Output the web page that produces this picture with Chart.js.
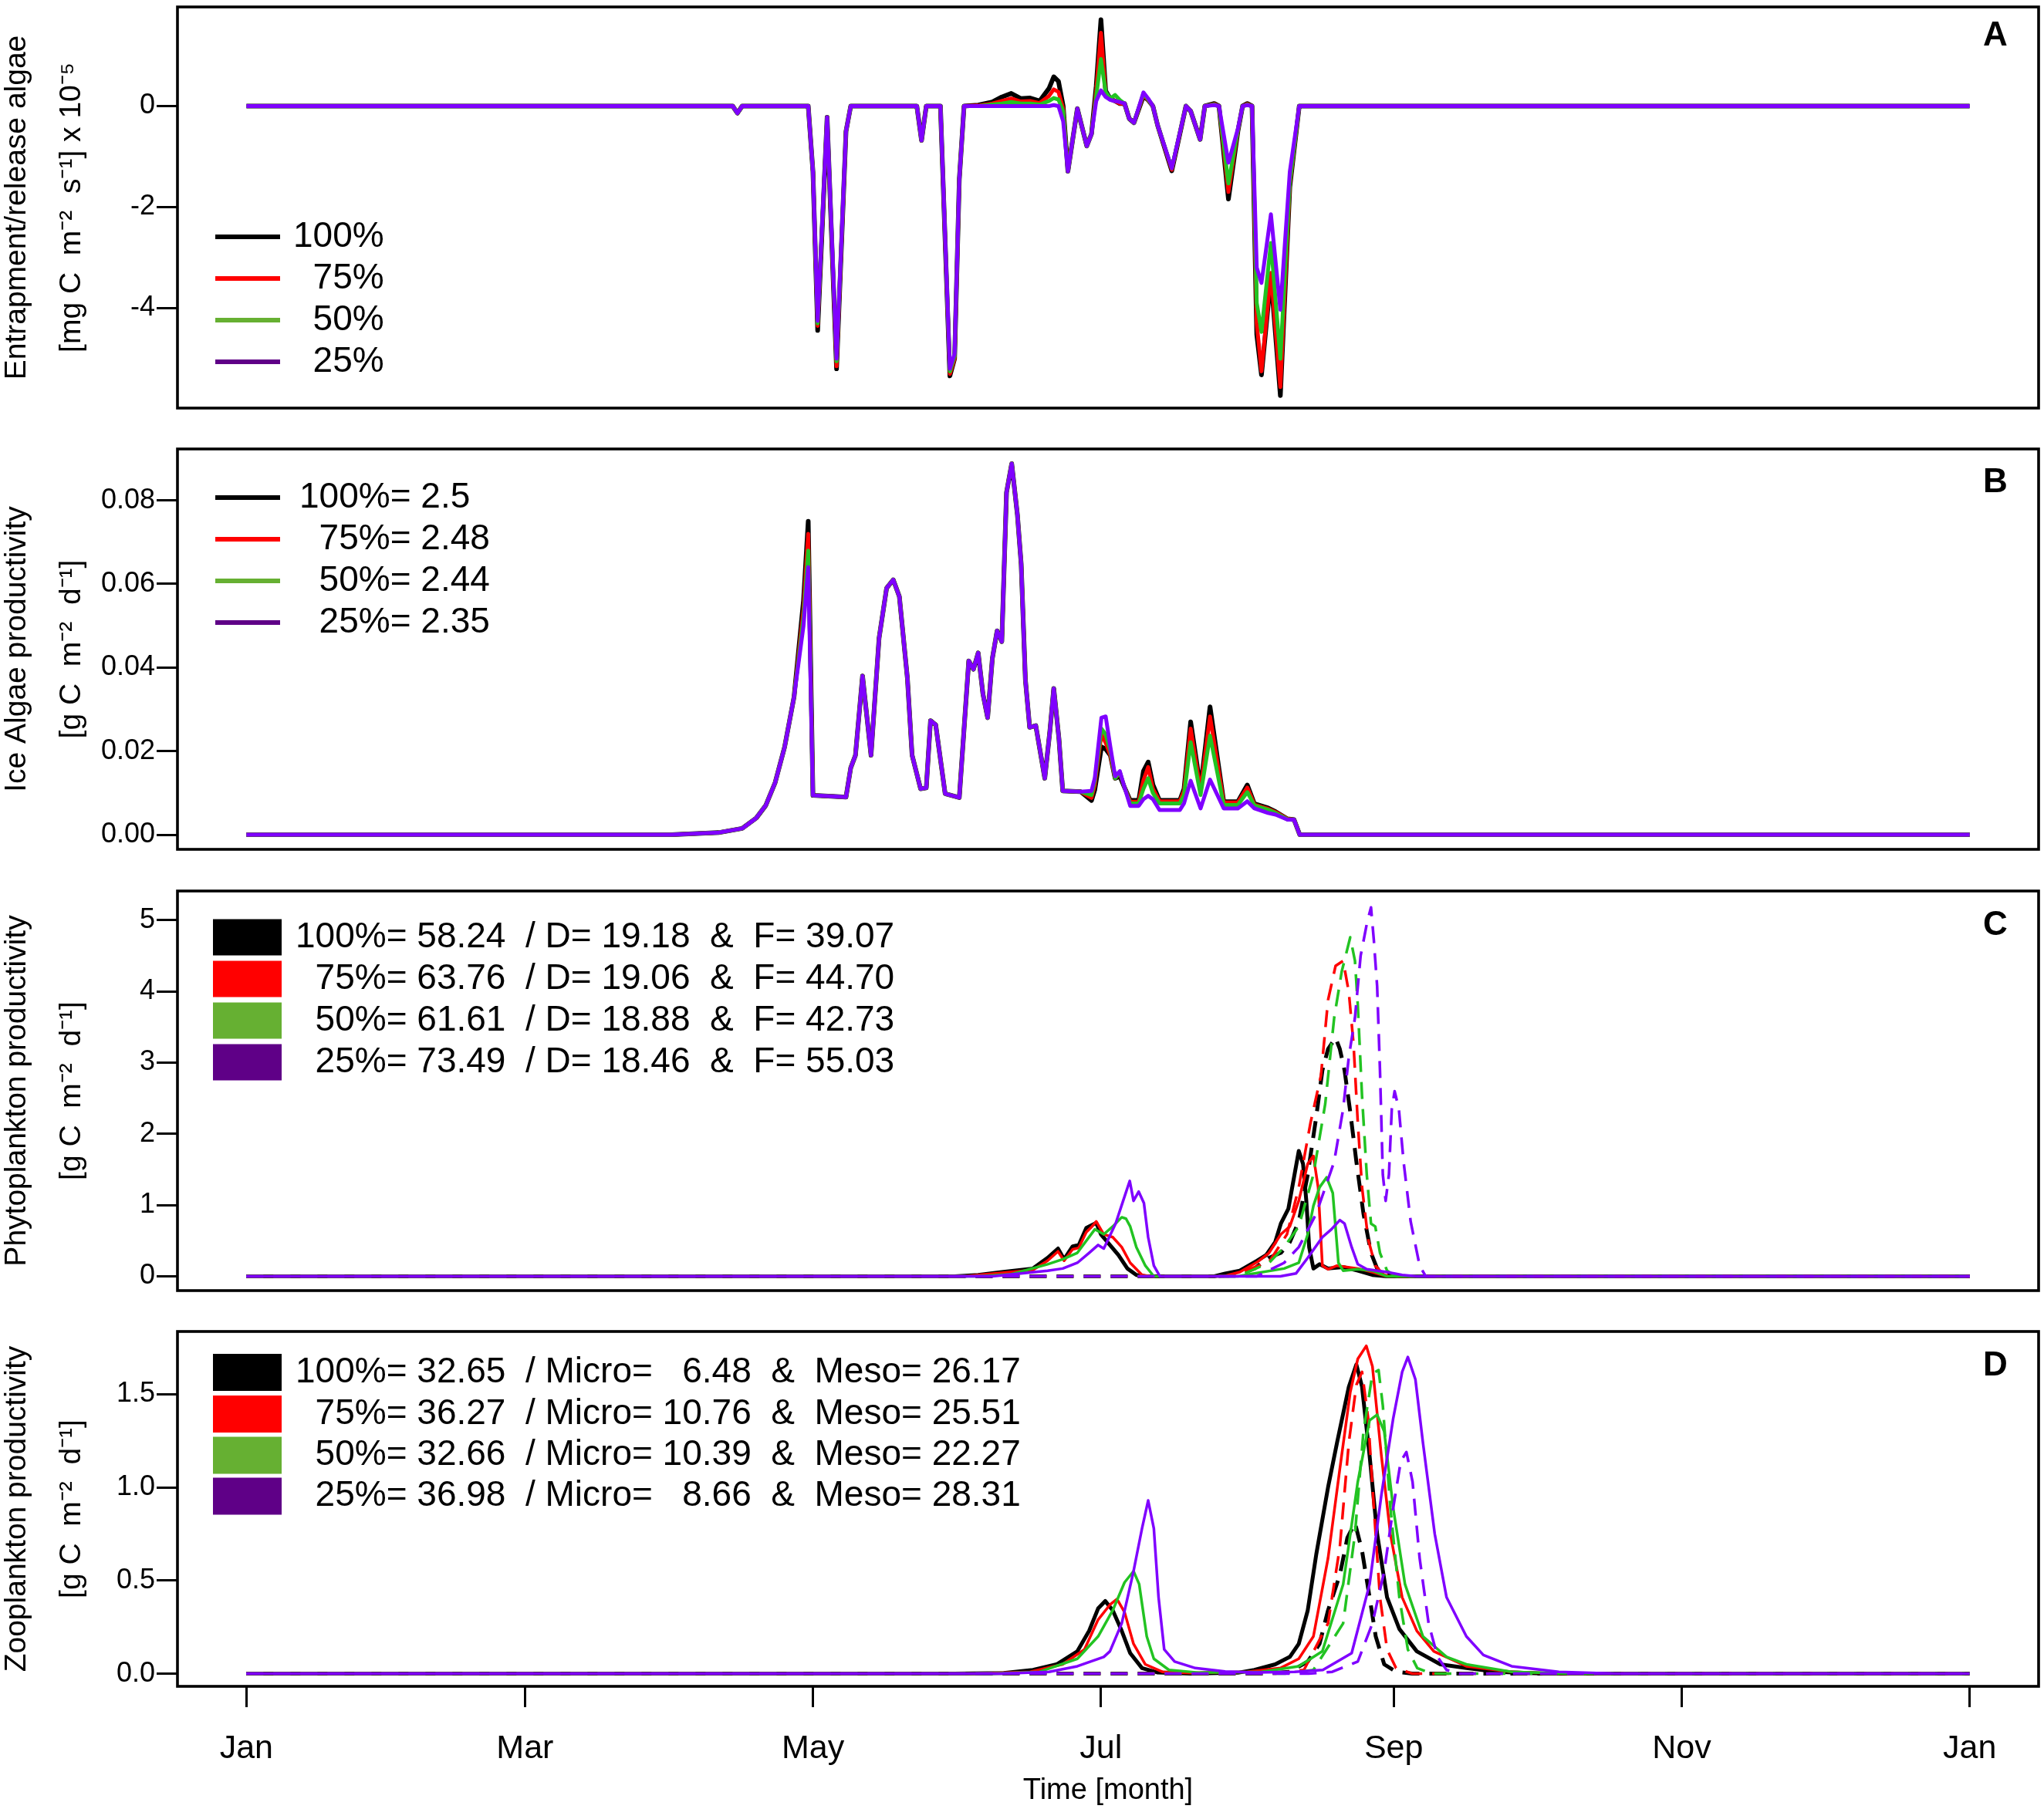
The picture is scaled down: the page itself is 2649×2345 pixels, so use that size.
<!DOCTYPE html>
<html>
<head>
<meta charset="utf-8">
<script src="https://cdn.jsdelivr.net/npm/chart.js@4.4.1/dist/chart.umd.min.js"></script>
<style>
  html, body { margin: 0; padding: 0; background: #fff; }
  body { width: 2649px; height: 2345px; position: relative; overflow: hidden; }
  canvas { position: absolute; left: 0; }
</style>
</head>
<body>
<canvas id="panelA" width="2649" height="556" style="top:0px;width:2649px;height:556px"></canvas>
<canvas id="panelB" width="2649" height="572" style="top:556px;width:2649px;height:572px"></canvas>
<canvas id="panelC" width="2649" height="572" style="top:1128px;width:2649px;height:572px"></canvas>
<canvas id="panelD" width="2649" height="645" style="top:1700px;width:2649px;height:645px"></canvas>
<script>
// ---- data ----
const scenarios = ['100%', '75%', '50%', '25%'];
const monthDays = [0, 59, 120, 181, 243, 304, 365];
const monthLabels = ['Jan', 'Mar', 'May', 'Jul', 'Sep', 'Nov', 'Jan'];

const entTicks = [-4, -2, 0];
const entTickLabels = ['-4', '-2', '0'];
const iceTicks = [0, 0.02, 0.04, 0.06, 0.08];
const iceTickLabels = ['0.00', '0.02', '0.04', '0.06', '0.08'];
const phyTicks = [0, 1, 2, 3, 4, 5];
const phyTickLabels = ['0', '1', '2', '3', '4', '5'];
const zooTicks = [0, 0.5, 1, 1.5];
const zooTickLabels = ['0.0', '0.5', '1.0', '1.5'];

const iceTotal = [2.5, 2.48, 2.44, 2.35];
const phyTotal = [58.24, 63.76, 61.61, 73.49];
const phyDia = [19.18, 19.06, 18.88, 18.46];
const phyFla = [39.07, 44.70, 42.73, 55.03];
const zooTotal = [32.65, 36.27, 32.66, 36.98];
const zooMicro = [6.48, 10.76, 10.39, 8.66];
const zooMeso = [26.17, 25.51, 22.27, 28.31];

// A: entrapment / release of ice algae (x 1e-5)
const entDays = [0, 103, 104, 105, 119, 120, 121, 123, 125, 127,
  128, 142, 143, 144, 147, 149, 150, 151, 152, 155,
  158, 160, 162, 164, 166, 168, 170, 171, 172, 173,
  174, 176, 178, 179, 180, 181, 182, 183, 184, 185,
  186, 187, 188, 190, 191, 192, 193, 196, 199, 200,
  202, 203, 205, 206, 208, 210, 211, 212, 213, 214,
  215, 217, 219, 221, 223, 365];
const ent100 = [0, 0, -0.14, 0, 0, -1.3, -4.44, -0.22, -5.2, -0.5,
  0, 0, -0.68, 0, 0, -5.34, -5.0, -1.45, 0, 0.02,
  0.08, 0.18, 0.25, 0.15, 0.16, 0.1, 0.35, 0.58, 0.49, 0,
  -1.29, -0.05, -0.79, -0.55, 0.4, 1.71, 0.3, 0.14, 0.1, 0.05,
  0.05, -0.25, -0.33, 0.2, 0.12, 0, -0.38, -1.28, 0, -0.1,
  -0.66, 0, 0.05, 0, -1.84, -0.5, 0, 0.05, 0, -4.52,
  -5.32, -3.37, -5.73, -1.6, 0, 0];
const ent75 = [0, 0, -0.14, 0, 0, -1.3, -4.35, -0.22, -5.15, -0.5,
  0, 0, -0.68, 0, 0, -5.3, -5.0, -1.45, 0, 0.01,
  0.05, 0.1, 0.15, 0.09, 0.1, 0.06, 0.2, 0.33, 0.28, -0.05,
  -1.29, -0.05, -0.79, -0.55, 0.3, 1.45, 0.25, 0.14, 0.1, 0.05,
  0.05, -0.25, -0.33, 0.22, 0.12, 0, -0.38, -1.26, 0, -0.1,
  -0.66, 0, 0.04, 0, -1.7, -0.48, 0, 0.04, 0, -4.3,
  -5.25, -3.3, -5.56, -1.55, 0, 0];
const ent50 = [0, 0, -0.14, 0, 0, -1.3, -4.3, -0.22, -5.05, -0.5,
  0, 0, -0.68, 0, 0, -5.25, -4.95, -1.45, 0, 0,
  0.03, 0.05, 0.08, 0.05, 0.05, 0.03, 0.1, 0.16, 0.13, -0.1,
  -1.29, -0.05, -0.79, -0.55, 0.2, 0.93, 0.28, 0.15, 0.22, 0.12,
  0.05, -0.25, -0.33, 0.25, 0.13, 0, -0.38, -1.23, 0, -0.1,
  -0.66, 0, 0.03, 0, -1.53, -0.47, 0, 0.03, 0, -3.9,
  -4.47, -2.71, -5.0, -1.5, 0, 0];
const ent25 = [0, 0, -0.14, 0, 0, -1.3, -4.25, -0.22, -5.0, -0.5,
  0, 0, -0.68, 0, 0, -5.2, -4.9, -1.45, 0, 0,
  0, 0, 0, 0, 0, 0, 0, 0.02, 0, -0.3,
  -1.29, -0.05, -0.79, -0.55, 0.1, 0.31, 0.18, 0.12, 0.1, 0.08,
  0.05, -0.25, -0.33, 0.27, 0.15, 0, -0.38, -1.23, 0, -0.1,
  -0.66, 0, 0.02, 0, -1.12, -0.45, 0, 0.02, 0, -3.2,
  -3.5, -2.14, -4.03, -1.3, 0, 0];

// B: ice algae productivity
const iceDays = [0, 90, 100, 105, 108, 110, 112, 114, 116, 118,
  119, 120, 124, 127, 128, 129, 130.5, 132.3, 134, 135.6,
  137, 138.3, 140, 141, 142.8, 144, 144.9, 146, 148, 151,
  153, 154, 155, 156, 157, 158, 159, 160, 161, 162.1,
  163.3, 164.1, 165, 165.9, 167.2, 169.1, 170.2, 171, 172.1, 172.9,
  176.7, 179, 179.7, 181.1, 182, 183, 184, 185, 186, 187.2,
  189, 190, 191, 192, 193.4, 197.7, 198.6, 200, 202.1, 204.1,
  207, 210, 212, 213.5, 216.4, 218, 220.5, 221.9, 223.1, 365];
const ice100 = [0, 0, 0.0005, 0.0015, 0.004, 0.007, 0.0125, 0.021, 0.033, 0.056,
  0.075, 0.0094, 0.0092, 0.009, 0.016, 0.019, 0.038, 0.019, 0.047, 0.059,
  0.061, 0.057, 0.0375, 0.019, 0.011, 0.0112, 0.0273, 0.0263, 0.0098, 0.0089,
  0.0416, 0.0396, 0.0435, 0.0337, 0.028, 0.0422, 0.0488, 0.0462, 0.0819, 0.0888,
  0.0766, 0.0648, 0.037, 0.0257, 0.0261, 0.0135, 0.025, 0.035, 0.023, 0.0105,
  0.0103, 0.0082, 0.0108, 0.021, 0.0205, 0.019, 0.0135, 0.014, 0.0113, 0.0082,
  0.0082, 0.0152, 0.0174, 0.012, 0.0082, 0.0082, 0.011, 0.027, 0.011, 0.0306,
  0.0079, 0.0079, 0.0119, 0.0074, 0.0064, 0.0055, 0.0038, 0.0036, 0, 0];
const ice75 = [0, 0, 0.0005, 0.0015, 0.004, 0.007, 0.0125, 0.021, 0.033, 0.054,
  0.072, 0.0094, 0.0092, 0.009, 0.016, 0.019, 0.038, 0.019, 0.047, 0.059,
  0.061, 0.057, 0.0375, 0.019, 0.011, 0.0112, 0.0273, 0.0263, 0.0098, 0.0089,
  0.0416, 0.0396, 0.0435, 0.0337, 0.028, 0.0422, 0.0488, 0.0462, 0.0819, 0.0888,
  0.0766, 0.0648, 0.037, 0.0257, 0.0261, 0.0135, 0.025, 0.035, 0.023, 0.0105,
  0.0103, 0.0088, 0.012, 0.024, 0.022, 0.019, 0.0135, 0.0148, 0.0113, 0.0079,
  0.0079, 0.013, 0.0162, 0.011, 0.008, 0.008, 0.0105, 0.0254, 0.0105, 0.0283,
  0.0077, 0.0077, 0.0113, 0.0072, 0.0062, 0.0054, 0.0038, 0.0036, 0, 0];
const ice50 = [0, 0, 0.0005, 0.0015, 0.004, 0.007, 0.0125, 0.021, 0.033, 0.052,
  0.068, 0.0094, 0.0092, 0.009, 0.016, 0.019, 0.038, 0.019, 0.047, 0.059,
  0.061, 0.057, 0.0375, 0.019, 0.011, 0.0112, 0.0273, 0.0263, 0.0098, 0.0089,
  0.0416, 0.0396, 0.0435, 0.0337, 0.028, 0.0422, 0.0488, 0.0462, 0.0819, 0.0888,
  0.0766, 0.0648, 0.037, 0.0257, 0.0261, 0.0135, 0.025, 0.035, 0.023, 0.0105,
  0.0103, 0.0095, 0.013, 0.0254, 0.024, 0.02, 0.0135, 0.015, 0.0113, 0.0075,
  0.0075, 0.011, 0.0135, 0.010, 0.0075, 0.0075, 0.0095, 0.0221, 0.0095, 0.0237,
  0.0071, 0.0071, 0.0102, 0.007, 0.006, 0.0052, 0.0037, 0.0036, 0, 0];
const ice25 = [0, 0, 0.0005, 0.0015, 0.004, 0.007, 0.0125, 0.021, 0.033, 0.05,
  0.064, 0.0094, 0.0092, 0.009, 0.016, 0.019, 0.038, 0.019, 0.047, 0.059,
  0.061, 0.057, 0.0375, 0.019, 0.011, 0.0112, 0.0273, 0.0263, 0.0098, 0.0089,
  0.0416, 0.0396, 0.0435, 0.0337, 0.028, 0.0422, 0.0488, 0.0462, 0.0819, 0.0888,
  0.0766, 0.0648, 0.037, 0.0257, 0.0261, 0.0135, 0.025, 0.035, 0.023, 0.0105,
  0.0103, 0.0105, 0.0136, 0.028, 0.0283, 0.021, 0.014, 0.0152, 0.0113, 0.0069,
  0.0069, 0.0085, 0.0093, 0.0085, 0.0059, 0.0059, 0.0075, 0.0129, 0.0063, 0.0132,
  0.0063, 0.0063, 0.008, 0.0063, 0.0052, 0.0048, 0.0036, 0.0036, 0, 0];

// C: phytoplankton productivity, [day, value]; D = diatoms (solid), F = flagellates (dashed)
const phyD100 = [[0,0],[150,0],[155,0.02],[160,0.06],[166.6,0.11],[169.7,0.26],[171.9,0.39],[173.2,0.24],[175,0.42],[176.3,0.44],[177.9,0.68],[179.1,0.72],[180,0.75],[181,0.59],[182.9,0.44],[184.7,0.30],[186.6,0.11],[188.5,0.02],[190.4,0],[205,0],[207.3,0.04],[210.4,0.08],[214.1,0.22],[216,0.30],[217.9,0.48],[219.1,0.74],[220.7,0.95],[222,1.43],[222.9,1.76],[223.8,1.58],[224.5,1.06],[225.1,0.41],[226,0.11],[227.3,0.17],[229.1,0.11],[232.3,0.13],[235.4,0.08],[238.5,0.02],[241.6,0],[365,0]];
const phyD75 = [[0,0],[152,0],[160,0.05],[166.6,0.09],[169.7,0.22],[171.9,0.35],[173.2,0.22],[175,0.38],[176.3,0.40],[177.9,0.62],[179.1,0.70],[180,0.77],[181.6,0.59],[183.5,0.55],[185.4,0.41],[187.2,0.19],[189.7,0.02],[191.6,0],[207,0],[210.4,0.06],[214.1,0.20],[216.6,0.33],[219.1,0.59],[221,0.70],[222.9,1.06],[224.8,1.58],[226,1.69],[227,1.25],[227.9,0.15],[229.1,0.10],[231,0.15],[235.4,0.11],[238.5,0.06],[241.6,0],[365,0]];
const phyD50 = [[0,0],[155,0],[162,0.03],[169.7,0.17],[172.9,0.24],[176,0.33],[179.7,0.66],[181.6,0.59],[183.5,0.70],[185.4,0.83],[186.3,0.81],[187.2,0.70],[188.5,0.41],[190.4,0.15],[192.2,0],[210,0],[213.5,0.04],[219.8,0.11],[222.9,0.19],[224.8,0.59],[226,0.99],[227.3,1.25],[228.8,1.39],[230.1,1.17],[231.3,0.19],[232.3,0.08],[235.4,0.10],[238.5,0.08],[241.6,0],[365,0]];
const phyD25 = [[0,0],[158,0],[169.7,0.08],[172.9,0.11],[176,0.19],[178.5,0.33],[180.4,0.44],[181.6,0.39],[184.1,0.74],[185.7,1.06],[187.1,1.34],[187.9,1.06],[189,1.19],[190.1,1.03],[191,0.55],[192.2,0.15],[193.5,0],[219,0],[222.3,0.04],[224.8,0.26],[227.9,0.55],[229.8,0.66],[231.6,0.79],[232.6,0.74],[234.1,0.41],[235.4,0.17],[237.3,0.10],[241.6,0.06],[244.8,0.02],[247.9,0],[365,0]];
const phyF100 = [[0,0],[205,0],[210.4,0.04],[213.5,0.11],[216.6,0.26],[219.1,0.33],[221,0.48],[222.9,0.77],[224.8,1.43],[226.6,2.24],[227.9,2.89],[229.1,3.19],[230.7,3.35],[231.6,3.19],[232.6,2.89],[233.8,2.31],[235.1,1.61],[236.6,0.88],[238.2,0.33],[239.5,0.11],[241.6,0.02],[244,0],[365,0]];
const phyF75 = [[0,0],[208,0],[216.6,0.2],[220.4,0.59],[222.9,1.25],[225.4,2.16],[227.6,2.82],[229.1,3.88],[230.7,4.36],[232.3,4.43],[233.5,3.99],[234.5,3.26],[235.4,2.16],[236.3,1.25],[237.6,0.52],[239.1,0.15],[241,0.02],[243,0],[365,0]];
const phyF50 = [[0,0],[210,0],[216.6,0.19],[219.8,0.41],[222.9,0.70],[226,1.43],[228.5,2.42],[230.4,3.63],[232,4.28],[233.8,4.76],[234.8,4.43],[235.4,3.81],[236.3,2.53],[237.3,1.43],[238.2,0.74],[239.1,0.70],[240.1,0.33],[241.6,0.08],[243.5,0],[365,0]];
const phyF25 = [[0,0],[214,0],[219.8,0.19],[222.9,0.41],[226.6,0.88],[230.4,1.61],[232.3,2.35],[233.5,3.08],[234.8,3.63],[236,4.50],[237.4,4.98],[238.2,5.18],[238.8,4.72],[239.5,4.07],[240.1,2.89],[240.7,1.43],[241.3,1.06],[242,1.43],[242.6,2.35],[243.2,2.60],[244.1,2.35],[245.1,1.61],[246.6,0.77],[248.5,0.15],[249.8,0],[365,0]];

// D: zooplankton productivity, [day, value]; Meso (solid), Micro (dashed)
const zooMeso100 = [[0,0],[150,0],[160.4,0.003],[166.6,0.02],[171.6,0.05],[176,0.12],[178.5,0.23],[180.4,0.35],[181.9,0.39],[183.5,0.34],[185.4,0.23],[187.2,0.11],[189.7,0.03],[192.9,0.007],[200,0],[210,0.005],[213.5,0.02],[217.9,0.05],[221,0.09],[222.9,0.16],[224.8,0.34],[226.6,0.64],[229.1,1.00],[231,1.24],[233.5,1.54],[235.1,1.66],[236.3,1.54],[237.9,1.17],[239.5,0.75],[241.6,0.41],[244.2,0.24],[247.9,0.12],[252.9,0.05],[258.4,0.03],[265,0.01],[275,0],[365,0]];
const zooMeso75 = [[0,0],[155,0],[166,0.01],[172.9,0.05],[177.5,0.13],[180.4,0.29],[182.9,0.37],[184.4,0.40],[186,0.33],[187.9,0.16],[190.4,0.05],[194,0.01],[200,0.003],[212,0.01],[219,0.03],[222.9,0.08],[226,0.20],[229.1,0.62],[231.6,1.10],[233.8,1.51],[235.4,1.69],[237.2,1.76],[238.5,1.65],[240.4,1.17],[242.3,0.75],[244.8,0.41],[247.9,0.23],[251.5,0.12],[258.4,0.04],[268,0.01],[278,0],[365,0]];
const zooMeso50 = [[0,0],[158,0],[168,0.01],[176,0.08],[180.4,0.20],[183.5,0.34],[186,0.49],[187.9,0.55],[189.1,0.48],[190.7,0.20],[192.2,0.08],[195.4,0.02],[202,0.005],[215,0.01],[222.9,0.04],[227.9,0.12],[232.3,0.48],[235.4,1.03],[237.9,1.36],[239.5,1.39],[241,1.30],[242.9,0.89],[245.4,0.48],[249.2,0.20],[254.2,0.09],[258.4,0.05],[268,0.01],[280,0],[365,0]];
const zooMeso25 = [[0,0],[160,0],[170,0.01],[176,0.04],[181.6,0.09],[182.9,0.12],[185.4,0.27],[187.9,0.55],[189.7,0.78],[191,0.93],[192.2,0.78],[193.2,0.41],[194.4,0.13],[196.6,0.065],[201,0.03],[207.3,0.012],[213.5,0.007],[222,0.01],[228,0.02],[234.1,0.11],[237.9,0.48],[240.4,0.96],[242.9,1.37],[244.8,1.62],[246,1.70],[247.6,1.58],[249.2,1.24],[251.7,0.75],[254.2,0.41],[258.4,0.20],[262,0.1],[268,0.04],[278,0.01],[290,0],[365,0]];
const zooMicro100 = [[0,0],[215,0],[221,0.01],[224.8,0.065],[227.3,0.16],[229.1,0.34],[231.6,0.53],[233.2,0.73],[234.8,0.81],[236.3,0.66],[237.9,0.41],[239.2,0.20],[241,0.05],[243.5,0.01],[247,0],[365,0]];
const zooMicro75 = [[0,0],[218,0],[224,0.02],[229.1,0.27],[231.6,0.68],[233.5,1.24],[235.1,1.55],[236.3,1.62],[237.6,1.37],[238.8,0.89],[240.1,0.41],[241.6,0.13],[243.5,0.03],[247,0],[365,0]];
const zooMicro50 = [[0,0],[220,0],[226,0.02],[232.3,0.27],[234.8,0.75],[236.6,1.30],[238.5,1.61],[239.8,1.63],[240.7,1.44],[242.3,0.89],[244.2,0.41],[246,0.13],[248,0.03],[251,0],[365,0]];
const zooMicro25 = [[0,0],[225,0],[230,0.01],[235.4,0.065],[238.5,0.27],[241,0.55],[242.9,0.89],[244.5,1.14],[245.7,1.19],[247,1.03],[248.5,0.62],[250.4,0.27],[252.3,0.09],[254.2,0.02],[257,0],[365,0]];

// ---- style ----
const FONT = '"Liberation Sans", Arial, Helvetica, sans-serif';
const lineColors = ['#000000', '#ff0000', '#22c322', '#7f00ff'];
const keyColors = ['#000000', '#ff0000', '#66b032', '#5f0087'];
const FIG = '\u2007';

function fromDays(days, vals) { return days.map((d, i) => ({ x: d, y: vals[i] })); }
function fromPairs(pairs) { return pairs.map(p => ({ x: p[0], y: p[1] })); }
function padPct(s) { return s.length < 4 ? FIG + s : s; }
function padNum(v) { const s = v.toFixed(2); return s.length < 5 ? FIG + s : s; }

const framePlugin = {
  id: 'frame',
  afterDraw(chart, args, opts) {
    const { ctx, chartArea: a } = chart;
    ctx.save();
    ctx.lineWidth = 3.6;
    ctx.strokeStyle = '#000';
    ctx.strokeRect(a.left, a.top, a.right - a.left, a.bottom - a.top);
    ctx.font = 'bold 44px ' + FONT;
    ctx.textAlign = 'center';
    ctx.textBaseline = 'middle';
    ctx.fillStyle = '#000';
    ctx.fillText(opts.letter, a.right - 56, a.top + opts.dy);
    ctx.restore();
  }
};

const keyPlugin = {
  id: 'panelKey',
  afterDatasetsDraw(chart, args, opts) {
    const { ctx, chartArea: a } = chart;
    ctx.save();
    opts.texts.forEach((t, i) => {
      const y = a.top + opts.rowY[i];
      if (opts.kind === 'line') {
        ctx.strokeStyle = keyColors[i];
        ctx.lineWidth = 6;
        ctx.beginPath();
        ctx.moveTo(opts.x0, y);
        ctx.lineTo(opts.x1, y);
        ctx.stroke();
      } else {
        ctx.fillStyle = keyColors[i];
        ctx.fillRect(opts.x0, y - opts.boxH / 2, opts.x1 - opts.x0, opts.boxH);
      }
      ctx.fillStyle = '#000';
      ctx.font = '46px ' + FONT;
      ctx.textAlign = 'left';
      ctx.textBaseline = 'middle';
      ctx.fillText(t, opts.textX, y);
    });
    ctx.restore();
  }
};

function yAxis(min, max, ticks, labels, title) {
  return {
    type: 'linear', min: min, max: max,
    afterBuildTicks: s => { s.ticks = ticks.map(v => ({ value: v })); },
    afterFit: s => { s.width = 230; s.paddingTop = 0; s.paddingBottom = 0; },
    ticks: { callback: (v, i) => labels[i], font: { size: 36, family: FONT }, color: '#000', padding: 2 },
    grid: { drawOnChartArea: false, drawTicks: true, tickLength: 27, tickWidth: 3, tickColor: '#000' },
    border: { display: false },
    title: { display: true, text: title, color: '#000',
      font: { size: 39, family: FONT, lineHeight: 1.82 }, padding: { top: -13.5, bottom: 0 } }
  };
}

const hiddenX = { type: 'linear', min: -14.6, max: 379.6, display: false };
const monthX = {
  type: 'linear', min: -14.6, max: 379.6,
  afterBuildTicks: s => { s.ticks = monthDays.map(v => ({ value: v })); },
  afterFit: s => { s.height = 159; s.paddingLeft = 0; s.paddingRight = 0; },
  ticks: { callback: (v, i) => monthLabels[i], font: { size: 43, family: FONT }, color: '#000',
    padding: 28, maxRotation: 0, autoSkip: false },
  grid: { drawOnChartArea: false, drawTicks: true, tickLength: 27, tickWidth: 3, tickColor: '#000' },
  border: { display: false },
  title: { display: true, text: 'Time [month]', color: '#000',
    font: { size: 38, family: FONT, lineHeight: 1 }, padding: { top: 0, bottom: 4 } }
};

function panel(id, datasets, pad, xScale, yScale, letter, letterDy, key) {
  return new Chart(document.getElementById(id), {
    type: 'line',
    data: { datasets: datasets },
    options: {
      responsive: false, animation: false, devicePixelRatio: 1,
      layout: { padding: { left: 0, right: 7, top: pad[0], bottom: pad[1] } },
      elements: { point: { radius: 0 }, line: { tension: 0, borderJoinStyle: 'round', borderCapStyle: 'butt' } },
      plugins: { legend: { display: false }, tooltip: { enabled: false },
        frame: { letter: letter, dy: letterDy }, panelKey: key },
      scales: { x: xScale, y: yScale }
    },
    plugins: [framePlugin, keyPlugin]
  });
}

function solidSets(list, widths, orderBase) {
  return list.map((d, i) => ({ label: scenarios[i], data: d, borderColor: lineColors[i],
    borderWidth: widths[i], order: orderBase - i * 2, fill: false }));
}

// A
const entSets = solidSets([ent100, ent75, ent50, ent25].map(v => fromDays(entDays, v)), [6, 5, 5, 5], 6);
panel('panelA', entSets, [9, 27], hiddenX,
  yAxis(-5.977, 1.962, entTicks, entTickLabels, ['Entrapment/release algae', '[mg C  m\u207B\u00B2  s\u207B\u00B9] x 10\u207B\u2075']),
  'A', 38, { kind: 'line', rowY: [298, 352, 406, 460], x0: 279, x1: 363, textX: 380,
    texts: scenarios.map(padPct) });

// B
const iceSets = solidSets([ice100, ice75, ice50, ice25].map(v => fromDays(iceDays, v)), [6, 5, 5, 5], 6);
panel('panelB', iceSets, [26, 27], hiddenX,
  yAxis(-0.0035, 0.0923, iceTicks, iceTickLabels, ['Ice Algae productivity', '[g C  m\u207B\u00B2  d\u207B\u00B9]']),
  'B', 44, { kind: 'line', rowY: [63, 117, 171, 225], x0: 279, x1: 363, textX: 388,
    texts: scenarios.map((s, i) => padPct(s) + '= ' + iceTotal[i]) });

// C
const phySets = solidSets([phyD100, phyD75, phyD50, phyD25].map(fromPairs), [5, 3.5, 3.5, 3.5], 7)
  .concat(solidSets([phyF100, phyF75, phyF50, phyF25].map(fromPairs), [5, 3.5, 3.5, 3.5], 6)
    .map(d => Object.assign(d, { borderDash: [22, 13] })));
panel('panelC', phySets, [27, 27], hiddenX,
  yAxis(-0.20, 5.41, phyTicks, phyTickLabels, ['Phytoplankton productivity', '[g C  m\u207B\u00B2  d\u207B\u00B9]']),
  'C', 45, { kind: 'box', rowY: [60, 114, 168, 222], x0: 276, x1: 365, boxH: 47, textX: 383,
    texts: scenarios.map((s, i) => padPct(s) + '= ' + phyTotal[i].toFixed(2) + '  / D= ' +
      phyDia[i].toFixed(2) + '  &  F= ' + phyFla[i].toFixed(2)) });

// D
const zooSets = solidSets([zooMeso100, zooMeso75, zooMeso50, zooMeso25].map(fromPairs), [5, 3.5, 3.5, 3.5], 7)
  .concat(solidSets([zooMicro100, zooMicro75, zooMicro50, zooMicro25].map(fromPairs), [5, 3.5, 3.5, 3.5], 6)
    .map(d => Object.assign(d, { borderDash: [22, 13] })));
panel('panelD', zooSets, [26, 0], monthX,
  yAxis(-0.068, 1.837, zooTicks, zooTickLabels, ['Zooplankton productivity', '[g C  m\u207B\u00B2  d\u207B\u00B9]']),
  'D', 45, { kind: 'box', rowY: [53, 107, 160.5, 213.5], x0: 276, x1: 365, boxH: 48, textX: 383,
    texts: scenarios.map((s, i) => padPct(s) + '= ' + zooTotal[i].toFixed(2) + '  / Micro= ' +
      padNum(zooMicro[i]) + '  &  Meso= ' + zooMeso[i].toFixed(2)) });
</script>
</body>
</html>
